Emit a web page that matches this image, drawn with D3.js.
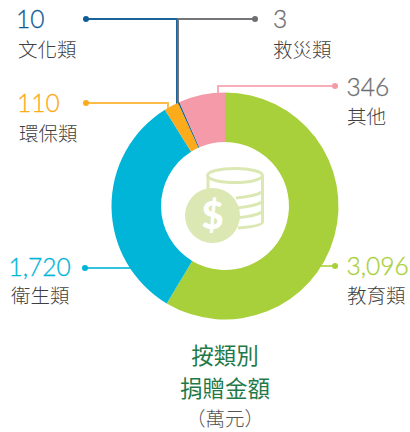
<!DOCTYPE html>
<html>
<head>
<meta charset="utf-8">
<script src="https://cdnjs.cloudflare.com/ajax/libs/d3/7.8.5/d3.min.js"></script>
<style>
  html, body { margin: 0; padding: 0; background: #fff; overflow: hidden; }
  svg { display: block; }
</style>
</head>
<body>
<div id="chart"></div>
<script>
const categories = ['教育類', '衛生類', '環保類', '文化類', '救災類', '其他']
const amounts = [3096, 1720, 110, 10, 3, 346]
const amountLabels = ['3,096', '1,720', '110', '10', '3', '346']
const colors = ['#a8d03a', '#00b5d8', '#fbab1c', '#0f5c96', '#6d6e71', '#f59aa8']
const numberColors = ['#a8d03a', '#00b5d8', '#fbab1c', '#0f5c96', '#6d6e71', '#6d6e71']
const titleLines = ['按類別', '捐贈金額']
const unitLabel = '（萬元）'

// label block position, dot and leader route for each category
const labelX = [347, 11, 19, 18, 273, 347]
const numberX = [346.5, 8.5, 17, 16, 273, 346.5]
const numberY = [275, 276, 112, 28, 28, 96]
const nameY = [303, 303, 141, 57, 57, 124]
const leaders = [
  [[335, 266], [305, 266]],
  [[85, 268], [140, 268]],
  [[86, 103], [168, 103], [168, 110]],
  [[86, 19], [177, 19], [177, 108]],
  [[255, 19], [178, 19], [178, 108]],
  [[335, 86], [218, 86], [218, 96]]
]

const width = 410
const height = 432
const cx = 225
const cy = 206
const outerR = 113.5
const innerR = 64

const cjk = '"Noto Sans CJK TC", "Noto Sans CJK SC", sans-serif'
const latin = 'Lato, "Noto Sans CJK TC", sans-serif'

const svg = d3
  .select('#chart')
  .append('svg')
  .attr('width', width)
  .attr('height', height)

// Leaders sit under the donut so they stop at the slice edge
const line = d3.line()
svg
  .append('g')
  .selectAll('path')
  .data(leaders)
  .join('path')
  .attr('d', (d) => line(d))
  .attr('fill', 'none')
  .attr('stroke', (d, i) => colors[i])
  .attr('stroke-width', 2)
  .attr('opacity', (d, i) => (i === 3 || i === 4 ? 0.95 : 0.8))

svg
  .append('g')
  .selectAll('circle')
  .data(leaders)
  .join('circle')
  .attr('cx', (d) => d[0][0])
  .attr('cy', (d) => d[0][1])
  .attr('r', 3)
  .attr('fill', (d, i) => colors[i])

const pie = d3.pie().sort(null)
const arc = d3.arc().innerRadius(innerR).outerRadius(outerR)

svg
  .append('g')
  .attr('transform', `translate(${cx},${cy})`)
  .selectAll('path')
  .data(pie(amounts))
  .join('path')
  .attr('d', arc)
  .attr('fill', (d, i) => colors[i])

// Coin stack icon
const iconColor = '#dbe8b4'
const icon = svg.append('g').attr('fill', 'none').attr('stroke', iconColor).attr('stroke-width', 3)
icon.append('ellipse').attr('cx', 235).attr('cy', 175.5).attr('rx', 27.5).attr('ry', 7)
icon.append('path').attr('d', 'M208,176V190M262.5,176V222Q262.5,226 238,228')
const stripeY = [196, 206, 216]
icon
  .selectAll('path.stripe')
  .data(stripeY)
  .join('path')
  .attr('class', 'stripe')
  .attr('d', (y) => `M236,${y + 2}Q256,${y} 262,${y - 4}`)

svg
  .append('circle')
  .attr('cx', 212.5)
  .attr('cy', 215.5)
  .attr('r', 27.5)
  .attr('fill', iconColor)

svg
  .append('text')
  .attr('x', 212.5)
  .attr('y', 229)
  .attr('text-anchor', 'middle')
  .attr('font-family', latin)
  .attr('font-weight', 900)
  .attr('font-size', 38)
  .attr('fill', '#fff')
  .text('$')

// Category labels
const labels = svg.append('g').selectAll('g').data(categories).join('g')
labels
  .append('text')
  .attr('x', (d, i) => numberX[i])
  .attr('y', (d, i) => numberY[i])
  .attr('font-family', latin)
  .attr('font-weight', 300)
  .attr('font-size', 24.5)
  .attr('stroke', (d, i) => numberColors[i])
  .attr('stroke-width', 0.3)
  .attr('fill', (d, i) => numberColors[i])
  .text((d, i) => amountLabels[i])
labels
  .append('text')
  .attr('x', (d, i) => labelX[i])
  .attr('y', (d, i) => nameY[i])
  .attr('font-family', cjk)
  .attr('font-weight', 300)
  .attr('font-size', 19.5)
  .attr('fill', '#3f3f3f')
  .text((d) => d)

svg
  .append('g')
  .selectAll('text')
  .data(titleLines)
  .join('text')
  .attr('x', cx)
  .attr('y', (d, i) => 364 + i * 33)
  .attr('text-anchor', 'middle')
  .attr('font-family', cjk)
  .attr('font-size', 22.5)
  .attr('fill', '#1f7a4a')
  .text((d) => d)

svg
  .append('text')
  .attr('x', cx)
  .attr('y', 426)
  .attr('text-anchor', 'middle')
  .attr('font-family', cjk)
  .attr('font-weight', 300)
  .attr('font-size', 19.5)
  .attr('fill', '#555')
  .text(unitLabel)
</script>
</body>
</html>
